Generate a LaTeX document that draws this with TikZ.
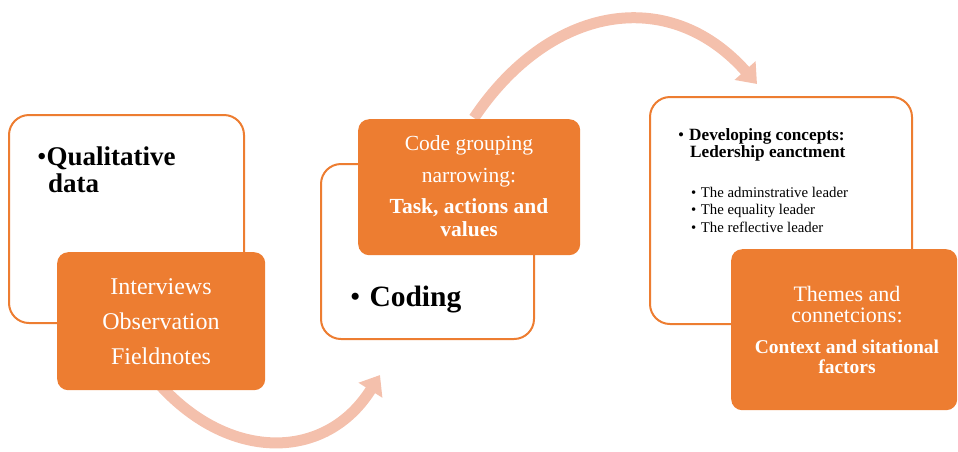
\documentclass[tikz,border=0pt]{standalone}
\usepackage{fontspec}
\setmainfont{Liberation Serif}
\usetikzlibrary{arrows.meta}
\definecolor{orng}{HTML}{ED7D31}
\definecolor{flow}{HTML}{F4C0AC}
\newcommand\myfs[2]{\fontsize{#1}{#2}\selectfont}
\begin{document}
\begin{tikzpicture}[x=1pt,y=-1pt,
  frame/.style={draw=orng, line width=2pt, rounded corners=20pt, fill=white, inner sep=0pt, anchor=north west},
  solidbox/.style={fill=orng, rounded corners=11pt, inner sep=0pt, anchor=north west},
  flowarrow/.style={draw=flow, line width=11pt, -{Triangle[length=18pt,width=27pt]}},
  txt/.style={inner sep=0pt, anchor=base},
  ltxt/.style={inner sep=0pt, anchor=base west},
  wtxt/.style={inner sep=0pt, anchor=base, text=white}
]
\useasboundingbox (0,0) rectangle (958,451);
% connectors (behind boxes)
\coordinate (a1s) at (160,385);
\coordinate (a1e) at (380,375);
\coordinate (a2s) at (474,118);
\coordinate (a2e) at (757,84);
\draw[flowarrow] (a1s) .. controls (230,462) and (326,461) .. (a1e);
\draw[flowarrow] (a2s) .. controls (549,6) and (668,-16) .. (a2e);
% box 1
\node[frame, minimum width=235pt, minimum height=208pt] (b1) at (8,114) {};
\node[solidbox, minimum width=208pt, minimum height=138pt] (o1) at (57,252) {};
\node[ltxt] (t1a) at (37,165) {\myfs{27}{27}{\mdseries •}\bfseries Qualitative};
\node[ltxt] (t1b) at (48,192) {\myfs{27}{27}\bfseries data};
\node[wtxt] (t1c) at (161,294) {\myfs{24}{24}Interviews};
\node[wtxt] (t1d) at (161,329) {\myfs{24}{24}Observation};
\node[wtxt] (t1e) at (161,364) {\myfs{24}{24}Fieldnotes};
% box 2
\node[frame, minimum width=213pt, minimum height=175pt] (b2) at (320,163) {};
\node[solidbox, minimum width=222pt, minimum height=136pt] (o2) at (358,119) {};
\node[wtxt] (t2a) at (469,150) {\myfs{21.5}{21.5}Code grouping};
\node[wtxt] (t2b) at (469,182) {\myfs{21.5}{21.5}narrowing:};
\node[wtxt] (t2c) at (469,213) {\myfs{21.5}{21.5}\bfseries Task, actions and};
\node[wtxt] (t2d) at (469,236) {\myfs{21.5}{21.5}\bfseries values};
\node[ltxt] (t2e) at (350,306) {\myfs{29.5}{29.5}{\mdseries •}\hspace{9pt}\bfseries Coding};
% box 3
\node[frame, minimum width=262pt, minimum height=227pt] (b3) at (649,96) {};
\node[solidbox, minimum width=226pt, minimum height=161pt] (o3) at (731,249) {};
\node[ltxt] (t3a) at (678,140) {\myfs{17.2}{17}{\mdseries •}\hspace{5pt}\bfseries Developing concepts:};
\node[ltxt] (t3b) at (690,157) {\myfs{17.2}{17}\bfseries Ledership eanctment};
\node[ltxt] (t3c) at (691,197) {\myfs{14.8}{14.5}•\hspace{4.5pt}The adminstrative leader};
\node[ltxt] (t3d) at (691,214) {\myfs{14.8}{14.5}•\hspace{4.5pt}The equality leader};
\node[ltxt] (t3e) at (691,232) {\myfs{14.8}{14.5}•\hspace{4.5pt}The reflective leader};
\node[wtxt] (t3f) at (847,301) {\myfs{22}{22}Themes and};
\node[wtxt] (t3g) at (847,322) {\myfs{22}{22}connetcions:};
\node[wtxt] (t3h) at (847,353) {\myfs{19.5}{19.5}\bfseries Context and sitational};
\node[wtxt] (t3i) at (847,373) {\myfs{19.5}{19.5}\bfseries factors};
\end{tikzpicture}
\end{document}
